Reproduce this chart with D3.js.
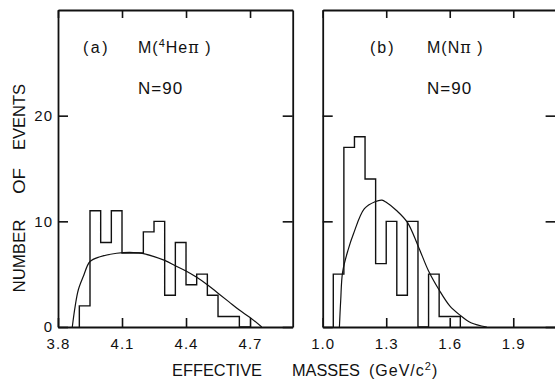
<!DOCTYPE html>
<html>
<head>
<meta charset="utf-8">
<script src="https://cdn.jsdelivr.net/npm/d3@7"></script>
<style>
  html, body { margin: 0; padding: 0; background: #fff; }
  svg { display: block; }
  text { font-family: "Liberation Sans", Arial, sans-serif; fill: #111; }
</style>
</head>
<body>
<svg id="chart" width="555" height="379"></svg>
<script>
// ---- data -------------------------------------------------------------
// (a) M(4He pi): histogram bins (lower edges, GeV/c^2) and event counts
const heBinLo   = [3.90, 3.95, 4.00, 4.05, 4.10, 4.15, 4.20, 4.25, 4.30, 4.35, 4.40, 4.45, 4.50, 4.55, 4.60, 4.65];
const heCounts  = [2, 11, 8, 11, 7, 7, 9, 10, 3, 8, 4, 5, 3, 1, 1, 0];
// (a) phase-space curve, sampled
const heCurveX  = [3.867, 3.880, 3.895, 3.919, 3.950, 3.997, 4.075, 4.153, 4.20, 4.30, 4.35, 4.40, 4.45, 4.50, 4.55, 4.60, 4.65, 4.70, 4.755];
const heCurveY  = [0, 1.9, 3.5, 4.8, 6.2, 6.65, 6.98, 7.05, 6.95, 6.3, 5.8, 5.3, 4.7, 4.0, 3.2, 2.4, 1.6, 0.9, 0];

// (b) M(N pi): histogram bins and counts
const npiBinLo  = [1.05, 1.10, 1.15, 1.20, 1.25, 1.30, 1.35, 1.40, 1.45, 1.50, 1.55, 1.60];
const npiCounts = [5, 17, 18, 14, 6, 10, 3, 10, 0, 5, 1, 1];
// (b) fitted curve, sampled
const npiCurveX = [1.079, 1.085, 1.094, 1.12, 1.145, 1.197, 1.247, 1.28, 1.30, 1.35, 1.40, 1.45, 1.50, 1.55, 1.60, 1.65, 1.70, 1.775];
const npiCurveY = [0, 2.5, 5.2, 7.3, 8.8, 11.2, 11.85, 12.0, 11.8, 11.0, 9.9, 7.7, 5.3, 3.5, 2.0, 1.1, 0.4, 0];

const binWidth  = 0.05;

// axis ticks
const heTicks    = [3.8, 4.1, 4.4, 4.7];
const npiTicks   = [1.0, 1.3, 1.6, 1.9];
const countTicks = [0, 10, 20];

// ---- layout -----------------------------------------------------------
const svg = d3.select("#chart");
const yTop = 10, yBase = 327;

const y = d3.scaleLinear().domain([0, 30]).range([yBase, yTop]);

const panels = [
  { id: "a", domain: [3.8, 4.9], range: [58, 292.7], ticks: heTicks,
    lo: heBinLo, counts: heCounts, cx: heCurveX, cy: heCurveY, yLabels: true },
  { id: "b", domain: [1.0, 2.1], range: [322.7, 555.6], ticks: npiTicks,
    lo: npiBinLo, counts: npiCounts, cx: npiCurveX, cy: npiCurveY, yLabels: false }
];

panels.forEach(p => {
  const x = d3.scaleLinear().domain(p.domain).range(p.range);
  const g = svg.append("g").attr("class", "panel-" + p.id);

  // frame axes with inward ticks
  const bottom = d3.axisBottom(x).tickValues(p.ticks).tickFormat(d3.format(".1f"))
    .tickSizeInner(-9).tickSizeOuter(0).tickPadding(11);
  const top = d3.axisTop(x).tickValues(p.ticks).tickFormat("")
    .tickSizeInner(-8).tickSizeOuter(0);
  const left = d3.axisLeft(y).tickValues(countTicks)
    .tickFormat(p.yLabels ? d3.format("d") : "")
    .tickSizeInner(-10).tickSizeOuter(0).tickPadding(5);
  const right = d3.axisRight(y).tickValues(countTicks).tickFormat("")
    .tickSizeInner(-10).tickSizeOuter(0);

  const ga = g.append("g").attr("transform", `translate(0,${yBase})`).call(bottom);
  const gt = g.append("g").attr("transform", `translate(0,${yTop})`).call(top);
  const gl = g.append("g").attr("transform", `translate(${p.range[0]},0)`).call(left);
  const gr = g.append("g").attr("transform", `translate(${p.range[1]},0)`).call(right);

  [ga, gt, gl, gr].forEach(s => {
    s.select(".domain").attr("stroke", "#111").attr("stroke-width", 1.8);
    s.selectAll(".tick line").attr("stroke", "#111").attr("stroke-width", 1.6);
    s.selectAll(".tick text")
      .style("font-family", '"Liberation Sans", Arial, sans-serif')
      .style("font-size", "15px").style("letter-spacing", "1px").attr("fill", "#111");
  });

  // histogram outline
  const path = d3.path();
  path.moveTo(x(p.lo[0]), y(0));
  p.counts.forEach((c, i) => {
    path.lineTo(x(p.lo[i]), y(c));
    path.lineTo(x(p.lo[i] + binWidth), y(c));
  });
  path.lineTo(x(p.lo[p.lo.length - 1] + binWidth), y(0));
  g.append("path").attr("d", path.toString())
    .attr("fill", "none").attr("stroke", "#111").attr("stroke-width", 1.4);

  // smooth curve
  const pts = p.cx.map((v, i) => [v, p.cy[i]]);
  const line = d3.line().x(d => x(d[0])).y(d => y(d[1])).curve(d3.curveCatmullRom.alpha(0.5));
  g.append("path").datum(pts).attr("d", line)
    .attr("fill", "none").attr("stroke", "#111").attr("stroke-width", 1.2);
});

// ---- in-panel annotations ---------------------------------------------
const lab = (x0, y0, size) => svg.append("text").attr("x", x0).attr("y", y0)
  .style("font-size", size + "px").style("letter-spacing", "1px");

lab(83, 53, 16).style("letter-spacing", "2.5px").text("(a)");
const ma = lab(138, 53, 16);
ma.append("tspan").text("M(");
ma.append("tspan").attr("dy", -6).style("font-size", "11px").text("4");
ma.append("tspan").attr("dy", 6).text("He");
ma.append("tspan").style("font-family", '"DejaVu Serif", serif').text("π");
ma.append("tspan").text(" )");
lab(138, 94, 17).text("N=90");

lab(370, 53, 16).style("letter-spacing", "2px").text("(b)");
const mb = lab(427, 53, 16);
mb.append("tspan").text("M(N");
mb.append("tspan").style("font-family", '"DejaVu Serif", serif').text("π");
mb.append("tspan").text(" )");
lab(427, 94, 17).text("N=90");

// ---- axis titles --------------------------------------------------------
// vertical title, one word at a time
[["NUMBER", 256, 73], ["OF", 181, 26], ["EVENTS", 117, 66]].forEach(([w, cy, len]) => {
  svg.append("text").attr("transform", `translate(25,${cy}) rotate(-90)`)
    .attr("text-anchor", "middle").style("font-size", "16px")
    .attr("textLength", len).attr("lengthAdjust", "spacingAndGlyphs")
    .text(w);
});

const xt = (x0, len, t) => svg.append("text").attr("x", x0).attr("y", 376)
  .style("font-size", "16px")
  .attr("textLength", len).attr("lengthAdjust", "spacingAndGlyphs").text(t);
xt(172, 90, "EFFECTIVE");
xt(292, 68, "MASSES");
const gev = svg.append("text").attr("x", 369).attr("y", 376)
  .style("font-size", "16px").style("letter-spacing", "1px");
gev.append("tspan").text("(GeV/c");
gev.append("tspan").attr("dy", -6).style("font-size", "11px").text("2");
gev.append("tspan").attr("dy", 6).text(")");
</script>
</body>
</html>
